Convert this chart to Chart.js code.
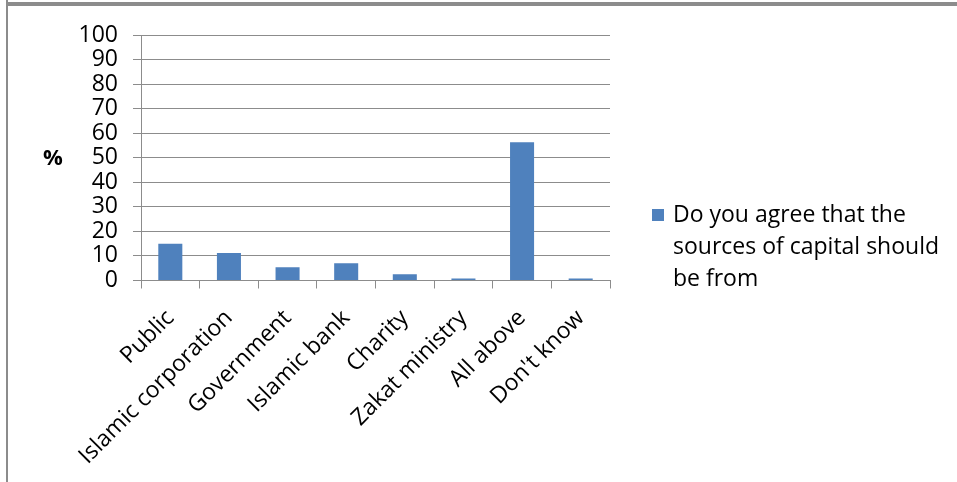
<!DOCTYPE html>
<html>
<head>
<meta charset="utf-8">
<script src="https://cdn.jsdelivr.net/npm/chart.js@4.4.0/dist/chart.umd.min.js"></script>
<style>
    html, body { margin: 0; padding: 0; background: #fff; }
    #wrap { position: relative; width: 957px; height: 482px; overflow: hidden; font-family: "Open Sans", sans-serif; }
    #chart { position: absolute; left: 0; top: 0; }
    .frame-left { position: absolute; left: 6px; top: 0; width: 2px; height: 482px; background: #8c8c8c; }
    .frame-top { position: absolute; left: 8px; top: 2px; right: 0; height: 4px; background: #8c8c8c; }
    .y-title { position: absolute; left: 43px; top: 141px; font-size: 22px; font-weight: bold; color: #000; }
    .legend { position: absolute; left: 652px; top: 197px; }
    .legend .swatch { position: absolute; left: 0; top: 12px; width: 12px; height: 12px; background: #4F81BD; }
    .legend .text { position: absolute; left: 21px; top: 0; width: 282px; font-size: 23px; line-height: 32px; color: #000; }
</style>
</head>
<body>
<div id="wrap">
    <canvas id="chart" width="957" height="482"></canvas>
    <div class="frame-left"></div>
    <div class="frame-top"></div>
    <div class="y-title">%</div>
    <div class="legend"><div class="swatch"></div><div class="text" id="legendText"></div></div>
</div>
<script>
// chart data
const categories = ['Public', 'Islamic corporation', 'Government', 'Islamic bank', 'Charity', 'Zakat ministry', 'All above', "Don't know"];
const values = [15, 11.2, 5.4, 7, 2.5, 0.8, 56.3, 0.8];
const seriesName = 'Do you agree that the sources of capital should be from';
const yMin = 0, yMax = 100, yStep = 10;

const barColor = '#4F81BD';
const gridColor = '#8c8c8c';
const font = { family: '"Open Sans", sans-serif', size: 23 };

document.getElementById('legendText').textContent = seriesName;

new Chart(document.getElementById('chart'), {
    type: 'bar',
    data: {
        labels: categories,
        datasets: [{ label: seriesName, data: values, backgroundColor: barColor, borderWidth: 0, barPercentage: 0.41, categoryPercentage: 1 }]
    },
    options: {
        responsive: false,
        animation: false,
        layout: { padding: { top: 35, right: 347, left: 0, bottom: 0 } },
        plugins: { legend: { display: false }, tooltip: { enabled: false } },
        scales: {
            x: {
                grid: { offset: true, drawOnChartArea: false, drawTicks: true, tickLength: 8, color: gridColor },
                border: { color: gridColor, width: 1 },
                ticks: { color: '#000', font, minRotation: 45, maxRotation: 45, autoSkip: false, padding: 16 },
                afterFit: s => { s.height = 201.5; }
            },
            y: {
                min: yMin, max: yMax,
                grid: { color: gridColor, tickLength: 8 },
                border: { color: gridColor, width: 1 },
                ticks: { stepSize: yStep, color: '#000', font, padding: 15, autoSkip: false },
                afterFit: s => { s.width = 141; }
            }
        }
    }
});
</script>
</body>
</html>
